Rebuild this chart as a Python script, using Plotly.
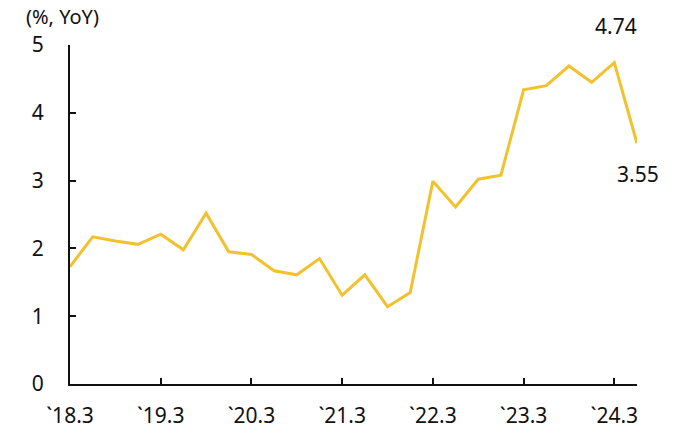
import plotly.graph_objects as go

quarters = ["18.3", "18.6", "18.9", "18.12", "19.3", "19.6", "19.9", "19.12",
            "20.3", "20.6", "20.9", "20.12", "21.3", "21.6", "21.9", "21.12",
            "22.3", "22.6", "22.9", "22.12", "23.3", "23.6", "23.9", "23.12",
            "24.3", "24.6"]
values = [1.73, 2.17, 2.11, 2.06, 2.21, 1.98, 2.52, 1.95, 1.91, 1.67, 1.61, 1.85,
          1.31, 1.61, 1.14, 1.35, 2.99, 2.61, 3.02, 3.08, 4.34, 4.40, 4.69, 4.45,
          4.74, 3.55]
tick_idx = [0, 4, 8, 12, 16, 20, 24]
tick_labels = ["`18.3", "`19.3", "`20.3", "`21.3", "`22.3", "`23.3", "`24.3"]
y_ticks = [0, 1, 2, 3, 4, 5]

x = list(range(len(values)))
FONT = "Noto Sans"

fig = go.Figure()
fig.add_trace(go.Scatter(x=x, y=values, mode="lines",
                         line=dict(color="#F2C12E", width=3), hoverinfo="skip"))

fig.update_layout(
    width=690, height=431,
    margin=dict(l=70, r=53, t=45, b=47, autoexpand=False),
    paper_bgcolor="white", plot_bgcolor="white",
    showlegend=False,
    font=dict(family=FONT, size=21, color="#111111"),
    xaxis=dict(range=[0, 25], tickvals=tick_idx, ticktext=tick_labels,
               showgrid=False, zeroline=False, showline=True, linecolor="#111111",
               linewidth=2, ticks="inside", ticklen=6, tickwidth=2, tickcolor="#111111",
               ticklabelstandoff=12, automargin=False),
    yaxis=dict(range=[0, 5], tickvals=y_ticks,
               showgrid=False, zeroline=False, showline=True, linecolor="#111111",
               linewidth=2, ticks="inside", ticklen=6, tickwidth=2, tickcolor="#111111",
               ticklabelstandoff=20, automargin=False),
    annotations=[
        dict(text="(%, YoY)", xref="paper", yref="paper", x=-0.080, y=1.083,
             xanchor="left", yanchor="middle", showarrow=False, borderpad=0,
             font=dict(family=FONT, size=20, color="#111111")),
        dict(text="4.74", xref="x", yref="y", x=24, y=values[24], yshift=37, xshift=2,
             showarrow=False, font=dict(family=FONT, size=21, color="#111111")),
        dict(text="3.55", xref="x", yref="y", x=25, y=values[25], yshift=-31, xshift=1,
             showarrow=False, font=dict(family=FONT, size=21, color="#111111")),
    ],
)

fig.write_html("out.html", config={"displayModeBar": False},
               post_script="document.body.style.margin='0';")
